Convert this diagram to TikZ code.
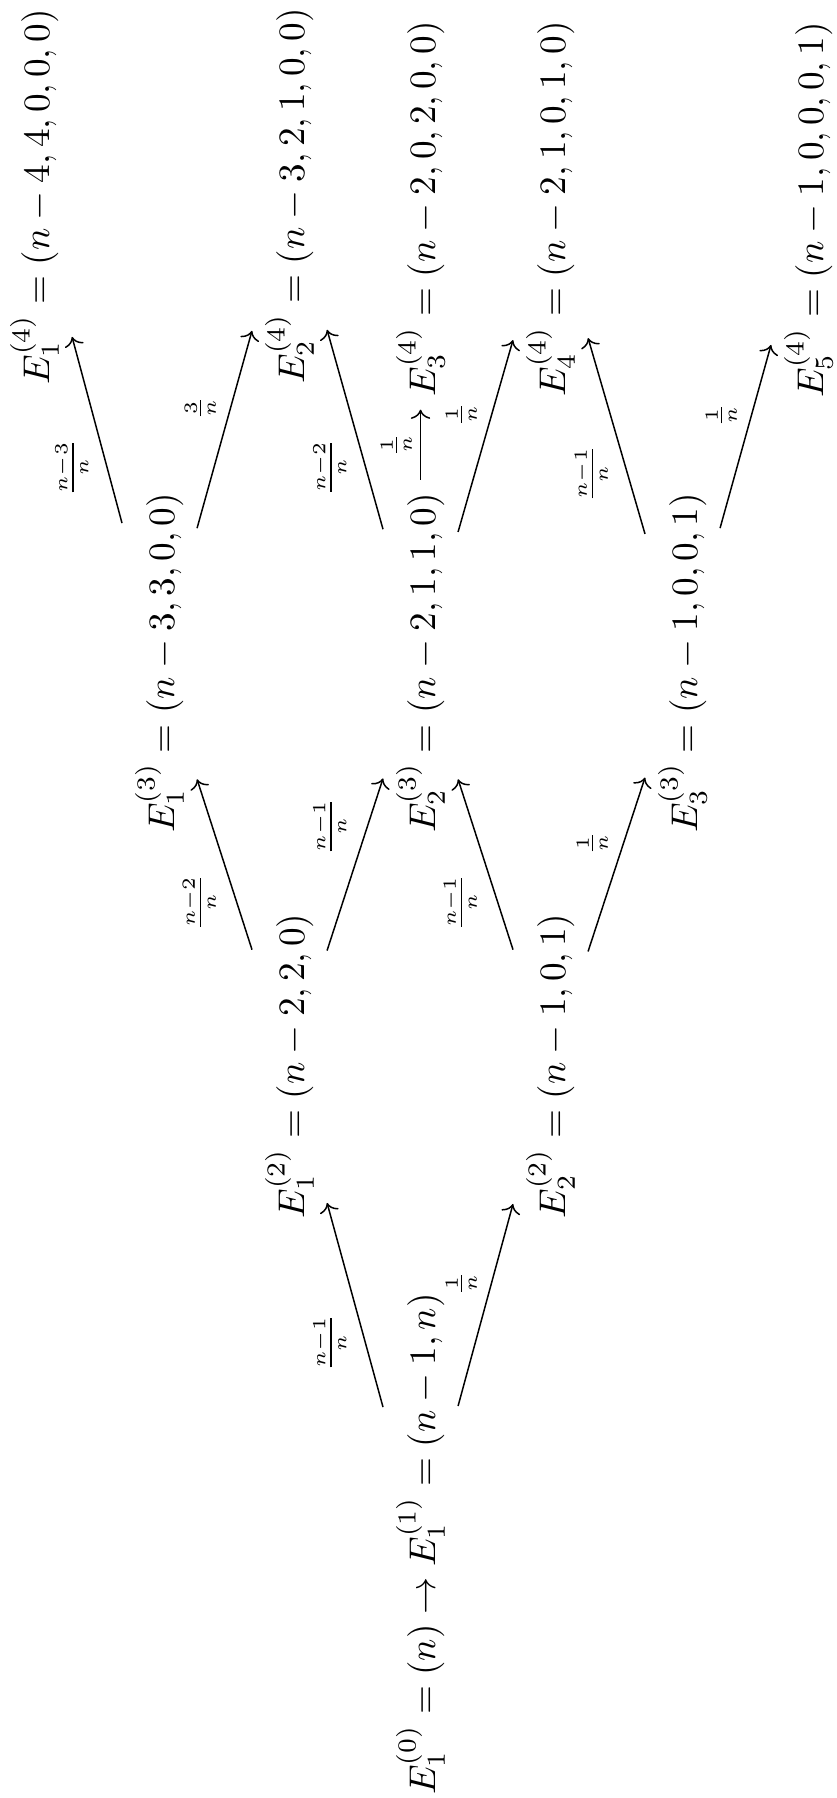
\documentclass[tikz,border=0pt]{standalone}
\usetikzlibrary{arrows.meta}
\begin{document}
\begin{tikzpicture}[x=0.2688pt,y=-0.2688pt,
  cell/.style={rotate=90, anchor=base, inner sep=0.3333em},
  lab/.style={rotate=90, inner sep=0.5ex},
  arr/.style={-{Computer Modern Rightarrow}, line width=0.4pt}]
\useasboundingbox (0,0) rectangle (837,1798);
% level 1
\node[cell] (e1) at (435,1544) {$E_1^{(0)} = (n) \to E_1^{(1)} = (n-1,n)$};
% level 2
\node[cell] (a2) at (304,1066) {$E_1^{(2)} = (n-2,2,0)$};
\node[cell] (b2) at (565,1066) {$E_2^{(2)} = (n-1,0,1)$};
% level 3
\node[cell] (a3) at (174,663) {$E_1^{(3)} = (n-3,3,0,0)$};
\node[cell] (b3) at (435,663) {$E_2^{(3)} = (n-2,1,1,0)$};
\node[cell] (c3) at (697,663) {$E_3^{(3)} = (n-1,0,0,1)$};
% level 4
\node[cell] (a4) at (49,197) {$E_1^{(4)} = (n-4,4,0,0,0)$};
\node[cell] (b4) at (304,196) {$E_2^{(4)} = (n-3,2,1,0,0)$};
\node[cell] (c4) at (435,209) {$E_3^{(4)} = (n-2,0,2,0,0)$};
\node[cell] (d4) at (565,209) {$E_4^{(4)} = (n-2,1,0,1,0)$};
\node[cell] (e4) at (823,210) {$E_5^{(4)} = (n-1,0,0,0,1)$};
% arrows
\draw[arr] (e1) -- node[lab, anchor=south east] {$\scriptstyle\frac{n-1}{n}$} (a2);
\draw[arr] (e1) -- node[lab, anchor=south west] {$\scriptstyle\frac{1}{n}$} (b2);
\draw[arr] (a2) -- node[lab, anchor=south east] {$\scriptstyle\frac{n-2}{n}$} (a3);
\draw[arr] (a2) -- node[lab, anchor=south west] {$\scriptstyle\frac{n-1}{n}$} (b3);
\draw[arr] (b2) -- node[lab, anchor=south east] {$\scriptstyle\frac{n-1}{n}$} (b3);
\draw[arr] (b2) -- node[lab, anchor=south west] {$\scriptstyle\frac{1}{n}$} (c3);
\draw[arr] (a3) -- node[lab, anchor=south east] {$\scriptstyle\frac{n-3}{n}$} (a4);
\draw[arr] (a3) -- node[lab, anchor=south west] {$\scriptstyle\frac{3}{n}$} (b4);
\draw[arr] (b3) -- node[lab, anchor=south east] {$\scriptstyle\frac{n-2}{n}$} (b4);
\draw[arr] (b3) -- node[lab, anchor=south] {$\scriptstyle\frac{1}{n}$} (c4);
\draw[arr] (b3) -- node[lab, anchor=south west] {$\scriptstyle\frac{1}{n}$} (d4);
\draw[arr] (c3) -- node[lab, anchor=south east] {$\scriptstyle\frac{n-1}{n}$} (d4);
\draw[arr] (c3) -- node[lab, anchor=south west] {$\scriptstyle\frac{1}{n}$} (e4);
\end{tikzpicture}
\end{document}
